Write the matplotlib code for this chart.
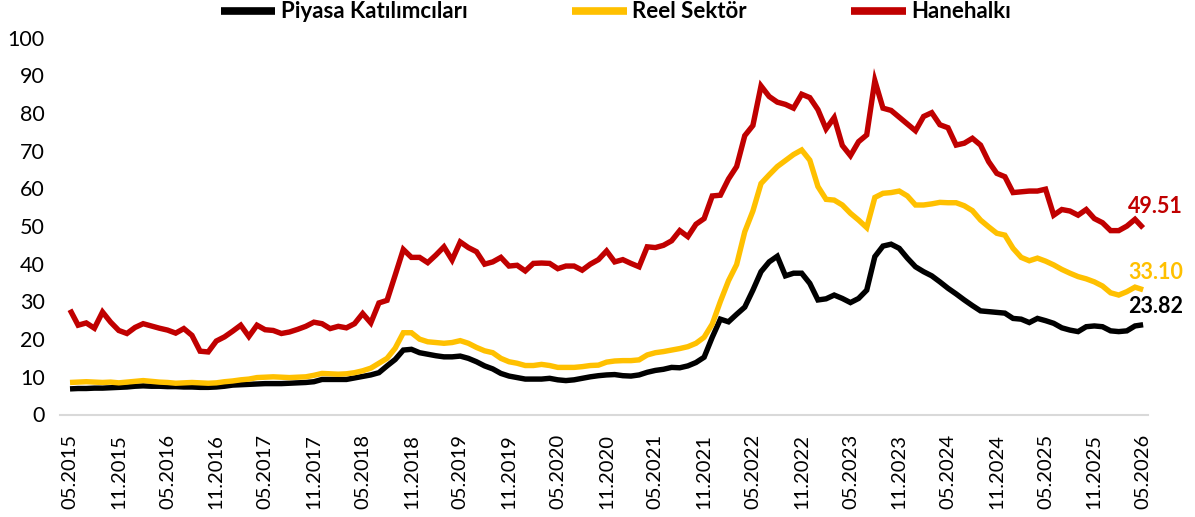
import matplotlib
matplotlib.use("Agg")
import matplotlib.pyplot as plt
import pandas as pd

# ---- data ----
months = pd.period_range("2015-05", "2026-05", freq="M")
month_labels = [p.strftime("%m.%Y") for p in months]

piyasa = [6.8, 6.9, 6.9, 7.0, 7.0, 7.1, 7.2, 7.3, 7.5, 7.6, 7.5, 7.5, 7.4, 7.4, 7.3, 7.3,
          7.2, 7.2, 7.3, 7.5, 7.8, 7.9, 8.0, 8.1, 8.2, 8.2, 8.2, 8.3, 8.4, 8.5, 8.7, 9.3,
          9.3, 9.3, 9.3, 9.7, 10.1, 10.5, 11.1, 12.9, 14.6, 17.1, 17.3, 16.4, 16.0, 15.6,
          15.3, 15.3, 15.5, 14.9, 14.0, 12.9, 12.1, 10.9, 10.2, 9.8, 9.4, 9.4, 9.4, 9.6,
          9.2, 9.0, 9.2, 9.6, 10.0, 10.3, 10.5, 10.6, 10.3, 10.2, 10.5, 11.2, 11.7, 12.0,
          12.5, 12.4, 12.9, 13.8, 15.2, 20.5, 25.3, 24.6, 26.6, 28.5, 33.0, 37.9, 40.5,
          42.0, 36.8, 37.5, 37.5, 34.8, 30.4, 30.7, 31.7, 30.8, 29.7, 30.8, 33.0, 41.9,
          44.7, 45.2, 44.1, 41.5, 39.2, 37.9, 36.8, 35.2, 33.5, 32.0, 30.4, 28.9, 27.5,
          27.3, 27.1, 26.9, 25.5, 25.3, 24.4, 25.5, 24.9, 24.2, 23.0, 22.4, 22.0, 23.3,
          23.5, 23.3, 22.2, 22.0, 22.2, 23.5, 23.82]

reel = [8.5, 8.6, 8.7, 8.6, 8.5, 8.6, 8.4, 8.6, 8.8, 9.0, 8.8, 8.6, 8.5, 8.3, 8.4, 8.5,
        8.4, 8.3, 8.4, 8.7, 8.9, 9.2, 9.4, 9.8, 9.9, 10.0, 9.9, 9.8, 9.9, 10.0, 10.4,
        10.9, 10.8, 10.7, 10.8, 11.1, 11.6, 12.3, 13.6, 14.9, 17.6, 21.7, 21.7, 20.0,
        19.3, 19.1, 18.9, 19.1, 19.6, 18.9, 17.8, 16.9, 16.4, 14.9, 14.0, 13.6, 13.0,
        13.0, 13.3, 13.0, 12.5, 12.5, 12.5, 12.7, 13.0, 13.1, 13.9, 14.2, 14.3, 14.3,
        14.5, 15.8, 16.4, 16.7, 17.1, 17.5, 18.0, 18.9, 20.5, 24.0, 30.0, 35.5, 39.8,
        48.5, 54.0, 61.3, 63.6, 65.8, 67.4, 69.0, 70.2, 67.5, 60.5, 57.1, 56.9, 55.6,
        53.4, 51.6, 49.6, 57.6, 58.7, 58.9, 59.3, 58.0, 55.6, 55.6, 55.9, 56.3, 56.2,
        56.2, 55.4, 54.1, 51.6, 49.8, 48.1, 47.6, 44.1, 41.7, 40.8, 41.5, 40.7, 39.7,
        38.5, 37.5, 36.6, 36.0, 35.2, 34.1, 32.3, 31.7, 32.6, 33.8, 33.10]

hane = [27.8, 23.7, 24.3, 22.9, 27.2, 24.5, 22.3, 21.5, 23.1, 24.1, 23.5, 22.9, 22.4,
        21.6, 22.8, 21.0, 16.8, 16.6, 19.5, 20.6, 22.1, 23.7, 20.7, 23.7, 22.5, 22.3,
        21.5, 21.9, 22.6, 23.4, 24.5, 24.1, 22.8, 23.4, 23.0, 24.1, 26.8, 24.3, 29.6,
        30.3, 37.0, 43.8, 41.7, 41.7, 40.3, 42.3, 44.5, 41.0, 45.8, 44.3, 43.2, 39.9,
        40.5, 41.7, 39.4, 39.6, 38.1, 40.1, 40.2, 40.1, 38.7, 39.4, 39.4, 38.3, 39.9,
        41.1, 43.4, 40.5, 41.1, 40.1, 39.2, 44.5, 44.3, 44.9, 46.1, 48.8, 47.2, 50.5,
        52.0, 58.0, 58.2, 62.5, 65.8, 74.0, 76.7, 87.2, 84.4, 82.9, 82.3, 81.3, 85.0,
        84.1, 80.9, 75.8, 78.8, 71.4, 68.7, 72.4, 74.2, 88.6, 81.3, 80.7, 78.9, 77.1,
        75.3, 79.1, 80.1, 76.9, 76.1, 71.5, 72.0, 73.3, 71.5, 67.1, 64.0, 63.1, 58.9,
        59.1, 59.3, 59.3, 59.8, 52.9, 54.4, 54.0, 52.9, 54.4, 52.0, 50.9, 48.8, 48.8,
        50.0, 51.8, 49.51]

series_names = ["Piyasa Katılımcıları", "Reel Sektör", "Hanehalkı"]
series_colors = ["#000000", "#FFC000", "#C00000"]
y_ticks = [0, 10, 20, 30, 40, 50, 60, 70, 80, 90, 100]

# ---- plot ----
FONT = "Lato"
plt.rcParams["font.family"] = [FONT, "DejaVu Sans"]

W, H = 1195, 517
fig = plt.figure(figsize=(W / 100, H / 100), dpi=100)
left_px, right_px, top_px, bottom_px = 60, 1148, 37.7, 414.5
ax = fig.add_axes([left_px / W, (H - bottom_px) / H,
                   (right_px - left_px) / W, (bottom_px - top_px) / H])

x = list(range(len(month_labels)))
all_series = [piyasa, reel, hane]
lines = []
for vals, name, col in zip(all_series, series_names, series_colors):
    ln, = ax.plot(x, vals, color=col, lw=3.9, label=name,
                  solid_joinstyle="miter", solid_capstyle="butt")
    lines.append(ln)

n = len(month_labels)
ax.set_xlim(-1.23, n - 1 + 0.6)
ax.set_ylim(0, 100)
ax.set_yticks(y_ticks)
ax.set_yticklabels([str(t) for t in y_ticks], fontsize=15.5, color="#000000")
tick_idx = list(range(0, n, 6))
ax.set_xticks(tick_idx)
ax.set_xticklabels([month_labels[i] for i in tick_idx], rotation=90,
                   fontsize=14.5, color="#000000", va="top", ha="center")
ax.tick_params(axis="both", length=0)
ax.tick_params(axis="y", pad=11)
ax.tick_params(axis="x", pad=14)
for s in ["top", "right", "left"]:
    ax.spines[s].set_visible(False)
ax.spines["bottom"].set_color("#D9D9D9")
ax.spines["bottom"].set_linewidth(1.5)
ax.spines["bottom"].set_zorder(0)

# end-value labels
offsets = [(40, 18), (40, 17), (40, 21)]
for vals, col, off in zip(all_series, series_colors, offsets):
    ax.annotate(f"{vals[-1]:.2f}", xy=(n - 1, vals[-1]), xytext=off,
                textcoords="offset pixels", ha="right", va="center",
                fontsize=15.5, fontweight="bold", color=col)

leg = fig.legend(handles=lines, labels=series_names, loc="center",
                 bbox_to_anchor=(616 / W, 1 - 12 / H), ncol=3, frameon=False,
                 prop={"family": [FONT, "DejaVu Sans"], "weight": "bold", "size": 16},
                 handlelength=2.45, handletextpad=0.25, columnspacing=4.7,
                 borderpad=0, borderaxespad=0)
for h in leg.legend_handles:
    h.set_linewidth(5.5)

fig.savefig("out.png", dpi=100, facecolor="white")
